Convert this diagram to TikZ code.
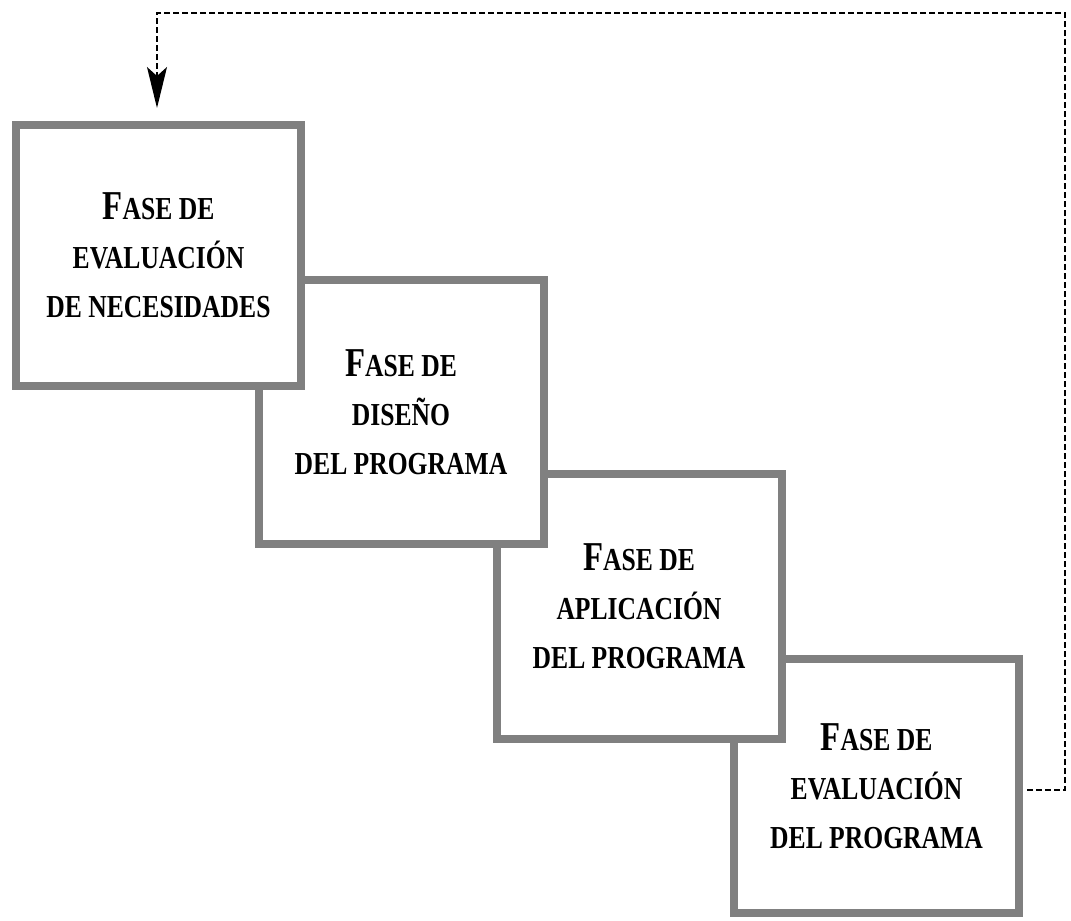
\documentclass[tikz,border=0pt]{standalone}
\usepackage{fontspec}
\newfontfamily\boxfont{Liberation Serif}[FakeStretch=0.8]
\usetikzlibrary{arrows.meta}
\definecolor{boxgray}{RGB}{128,128,128}
\newcommand{\BigF}[1]{{\fontsize{41}{49}\selectfont #1}}
\tikzset{
  phase/.style={draw=boxgray, line width=8pt, fill=white, minimum width=285pt,
    inner sep=0pt, align=center, text=black,
    font=\boxfont\bfseries\fontsize{32}{49}\selectfont},
  loopline/.style={dashed, dash pattern=on 6pt off 3pt, line width=1.5pt,
    -{Stealth[length=41pt,width=20pt,inset=9pt]}}
}
\begin{document}
\begin{tikzpicture}[x=1pt,y=-1pt]
\useasboundingbox (0,0) rectangle (1071,921);
\node[phase, minimum height=254pt] (b4) at (876.5,786)
  {\BigF{F}ASE DE\\EVALUACIÓN\\DEL PROGRAMA};
\node[phase, minimum height=265pt] (b3) at (639,606.5)
  {\BigF{F}ASE DE\\APLICACIÓN\\DEL PROGRAMA};
\node[phase, minimum height=264pt] (b2) at (401,412)
  {\BigF{F}ASE DE\\DISEÑO\\DEL PROGRAMA};
\node[phase, minimum height=261pt] (b1) at (158.5,255.5)
  {\BigF{F}ASE DE\\EVALUACIÓN\\DE NECESIDADES};
\coordinate (tr) at (1065,13);
\coordinate (tl) at (157,13);
\coordinate (tip) at (157,108);
\draw[loopline] ([xshift=4pt,yshift=-4pt]b4.east) -| (tr) -- (tl) -- (tip);
\end{tikzpicture}
\end{document}
